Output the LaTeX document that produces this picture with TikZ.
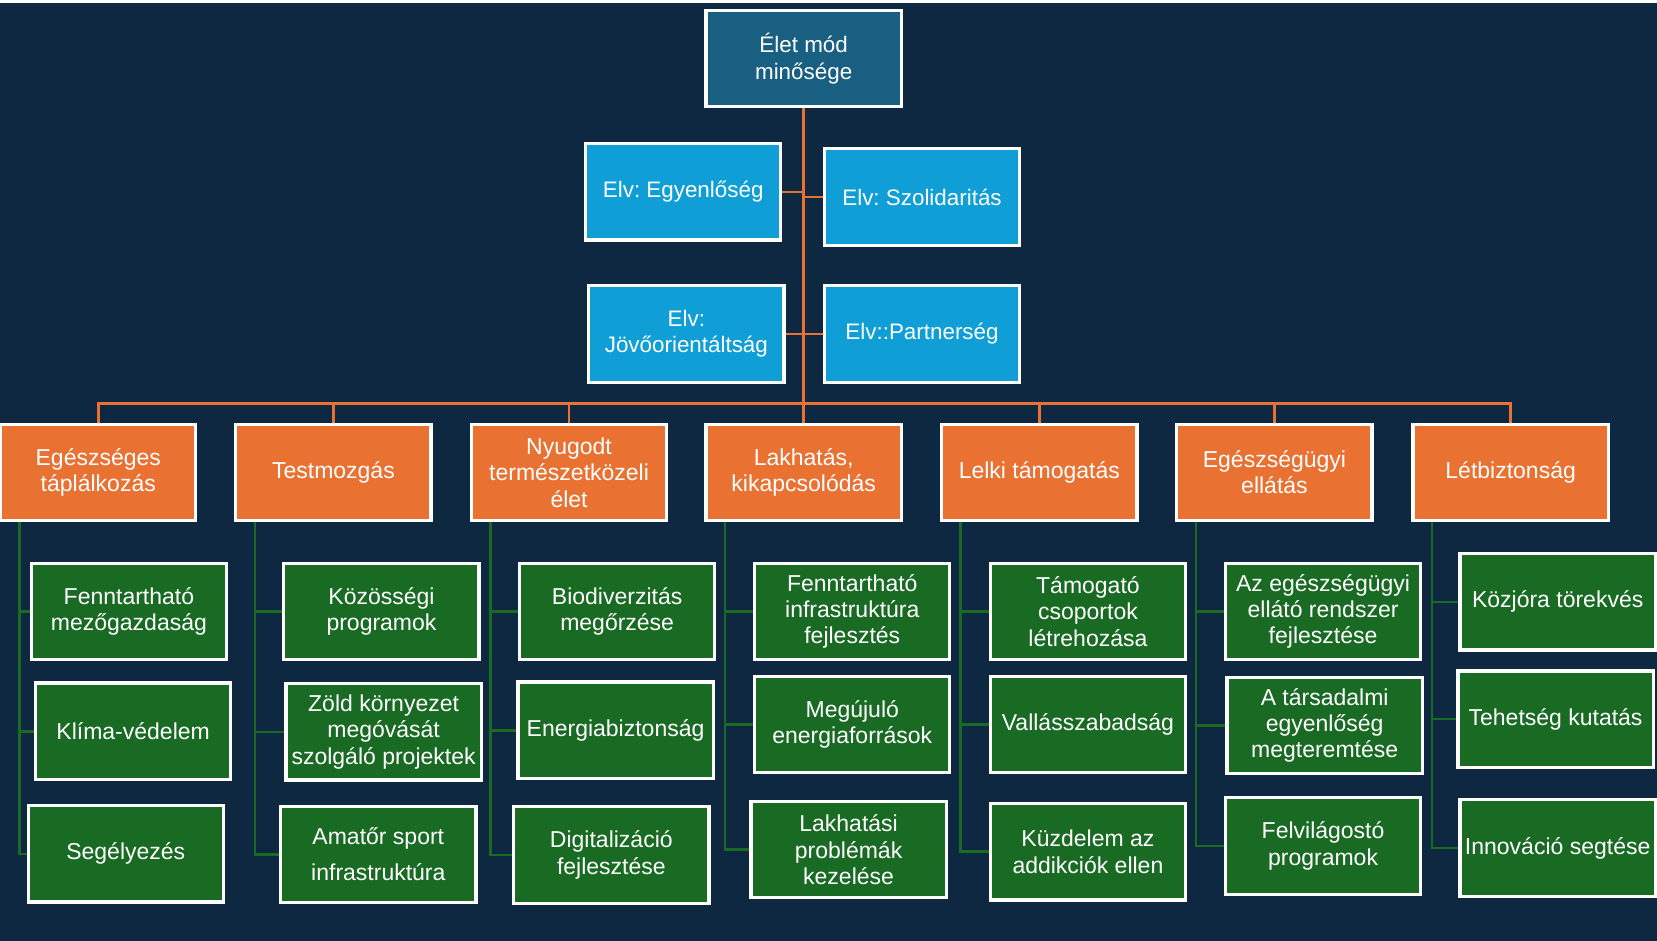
\documentclass[tikz,border=0pt]{standalone}
\usepackage{fontspec}
\setmainfont{Liberation Sans}
\frenchspacing
\definecolor{bg}{HTML}{0F2842}
\definecolor{topc}{HTML}{195F82}
\definecolor{bluec}{HTML}{0F9ED5}
\definecolor{orc}{HTML}{E97132}
\definecolor{grc}{HTML}{196B24}
\begin{document}
\begin{tikzpicture}[x=0.5284pt,y=-0.5284pt,
  box/.style={draw=white, line width=1.6pt, text=white, align=center,
    minimum width=97.6pt, minimum height=48.2pt, inner sep=1pt,
    font=\fontsize{11.5}{13.2}\selectfont},
  topbox/.style={box, fill=topc, font=\fontsize{11.2}{13.2}\selectfont},
  bluebox/.style={box, fill=bluec, font=\fontsize{11.2}{13.2}\selectfont},
  orbox/.style={box, fill=orc},
  grbox/.style={box, fill=grc},
  oline/.style={draw=orc, line width=1.3pt},
  gline/.style={draw=grc, line width=1.3pt},
  spine/.style={xshift=10.3pt}]
\fill[bg] (0,0) rectangle (1568,890);
\fill[white] (0,0) rectangle (1568,2.5);
\useasboundingbox (0,0) rectangle (1568,890);

% nodes
\node[topbox] (top) at (760.5,55.5) {Élet mód\\minősége};
\node[bluebox] (b1) at (646.5,181.5) {Elv: Egyenlőség};
\node[bluebox] (b2) at (872.5,186.5) {Elv: Szolidaritás};
\node[bluebox] (b3) at (649.5,316) {Elv:\\Jövőorientáltság};
\node[bluebox] (b4) at (872.5,316) {Elv::Partnerség};

\node[orbox] (o1) at (93,447) {Egészséges\\táplálkozás};
\node[orbox] (o2) at (315.5,447) {Testmozgás};
\node[orbox] (o3) at (538.5,447) {Nyugodt\\természetközeli\\élet};
\node[orbox] (o4) at (760.5,447) {Lakhatás,\\kikapcsolódás};
\node[orbox] (o5) at (983.5,447) {Lelki támogatás};
\node[orbox] (o6) at (1206,447) {Egészségügyi\\ellátás};
\node[orbox] (o7) at (1429.5,447) {Létbiztonság};

\node[grbox] (g11) at (122,578.5) {Fenntartható\\mezőgazdaság};
\node[grbox] (g12) at (126,692) {Klíma-védelem};
\node[grbox] (g13) at (119,808) {Segélyezés};
\node[grbox] (g21) at (361,578.5) {Közösségi\\programok};
\node[grbox] (g22) at (363,692.5) {Zöld környezet\\megóvását\\szolgáló projektek};
\node[grbox] (g23) at (358,808.5) {Amatőr sport\\[5pt]infrastruktúra};
\node[grbox] (g31) at (584,578.5) {Biodiverzitás\\megőrzése};
\node[grbox] (g32) at (582.5,691) {Energiabiztonság};
\node[grbox] (g33) at (578.5,809) {Digitalizáció\\fejlesztése};
\node[grbox] (g41) at (806.5,578.5) {Fenntartható\\infrastruktúra\\fejlesztés};
\node[grbox] (g42) at (806.5,685.5) {Megújuló\\energiaforrások};
\node[grbox] (g43) at (803,804) {Lakhatási\\problémák\\kezelése};
\node[grbox] (g51) at (1029.5,578.5) {Támogató\\csoportok\\létrehozása};
\node[grbox] (g52) at (1029.5,685.5) {Vallásszabadság};
\node[grbox] (g53) at (1029.5,806) {Küzdelem az\\addikciók ellen};
\node[grbox] (g61) at (1252,578.5) {Az egészségügyi\\ellátó rendszer\\fejlesztése};
\node[grbox] (g62) at (1253.5,686.5) {A társadalmi\\egyenlőség\\megteremtése};
\node[grbox] (g63) at (1252,800.5) {Felvilágostó\\programok};
\node[grbox] (g71) at (1474,569.5) {Közjóra törekvés};
\node[grbox] (g72) at (1472,680.5) {Tehetség kutatás};
\node[grbox] (g73) at (1474,802.5) {Innováció segtése};

% orange connectors
\coordinate (bar) at (760.5,382);
\draw[oline] (top.south) -- (bar);
\draw[oline] (b1.east) -- (b1.east -| top.south);
\draw[oline] (b2.west) -- (b2.west -| top.south);
\draw[oline] (b3.east) -- (b3.east -| top.south);
\draw[oline] (b4.west) -- (b4.west -| top.south);
\foreach \o in {o1,o2,o3,o4,o5,o6,o7}
  \draw[oline] (\o.north) |- (bar);

% green connectors
\foreach \o/\c in {o1/1,o2/2,o3/3,o4/4,o5/5,o6/6,o7/7}
  \foreach \k in {1,2,3}
    \draw[gline] ([spine]\o.south west) |- (g\c\k.west);
\end{tikzpicture}
\end{document}
